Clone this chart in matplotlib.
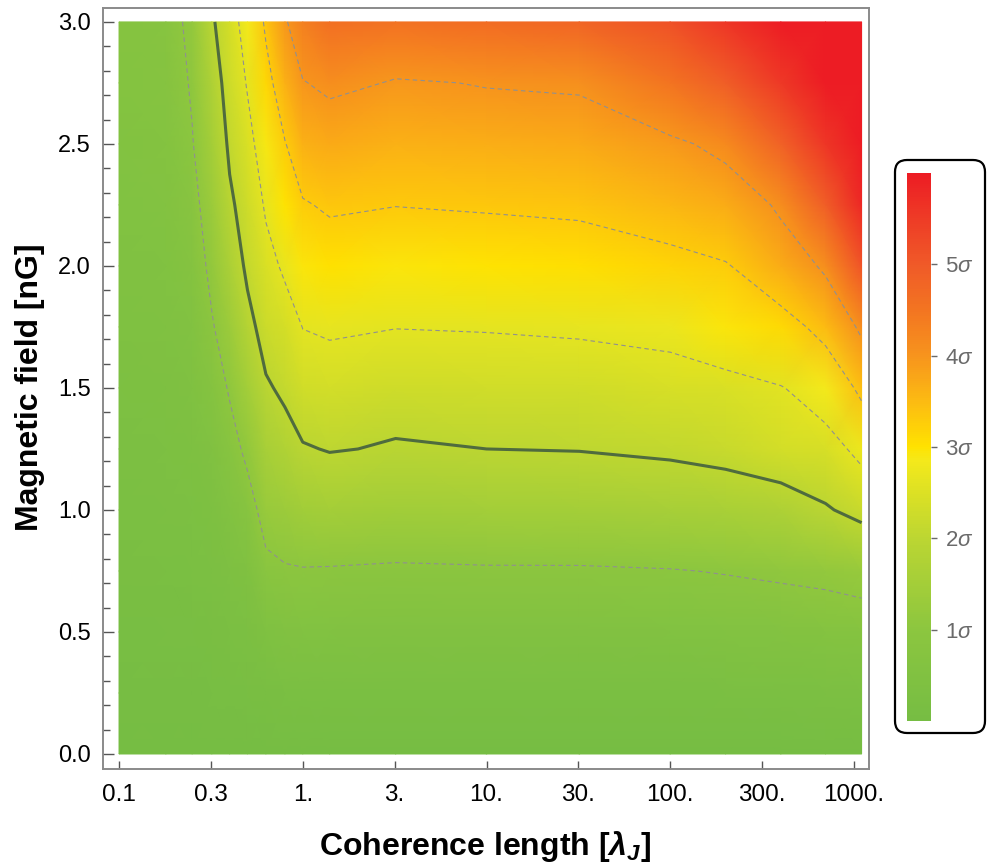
import numpy as np
import matplotlib
matplotlib.use("Agg")
import matplotlib.pyplot as plt
from matplotlib import font_manager as fm
from matplotlib.colors import LinearSegmentedColormap, Normalize
from matplotlib.cm import ScalarMappable
from matplotlib.patches import FancyBboxPatch
from matplotlib.transforms import IdentityTransform
from matplotlib.ticker import FixedLocator, MultipleLocator, NullLocator

_names = {f.name for f in fm.fontManager.ttflist}
NARROW = 'Liberation Sans Narrow' if 'Liberation Sans Narrow' in _names else 'Liberation Sans'
NARROW_ON = NARROW == 'Liberation Sans Narrow'

plt.rcParams['mathtext.fontset'] = 'custom'
plt.rcParams['mathtext.it'] = 'Liberation Sans:italic'
plt.rcParams['mathtext.rm'] = 'Liberation Sans'
plt.rcParams['mathtext.bf'] = NARROW + ':bold:italic'

# ---------------- data ----------------
coherence_length = [0.1, 0.18, 0.25, 0.32, 0.4, 0.5, 0.63, 0.8, 1.0, 1.4,
                    3.2, 10, 32, 100, 200, 400, 700, 1100]
field_nG = [0.0, 0.25, 0.5, 0.75, 1.0, 1.25, 1.5, 1.75, 2.0, 2.25, 2.5, 2.75, 3.0]

# significance (sigma) per coherence-length column, from B=0 up to B=3 nG
sig_0p1  = [0, 0.05, 0.10, 0.17, 0.22, 0.28, 0.34, 0.40, 0.46, 0.52, 0.58, 0.64, 0.70]
sig_0p18 = [0, 0.06, 0.12, 0.19, 0.26, 0.32, 0.38, 0.45, 0.52, 0.59, 0.65, 0.71, 0.78]
sig_0p25 = [0, 0.07, 0.14, 0.22, 0.30, 0.38, 0.48, 0.58, 0.69, 0.82, 0.97, 1.06, 1.15]
sig_0p32 = [0, 0.08, 0.17, 0.27, 0.38, 0.50, 0.70, 0.95, 1.15, 1.33, 1.52, 1.72, 1.93]
sig_0p4  = [0, 0.10, 0.22, 0.37, 0.55, 0.78, 1.06, 1.35, 1.65, 1.90, 2.10, 2.25, 2.38]
sig_0p5  = [0, 0.12, 0.27, 0.47, 0.75, 1.14, 1.48, 1.83, 2.11, 2.28, 2.44, 2.64, 2.84]
sig_0p63 = [0, 0.15, 0.40, 0.85, 1.25, 1.58, 1.93, 2.24, 2.45, 2.66, 2.90, 3.14, 3.38]
sig_0p8  = [0, 0.20, 0.50, 0.95, 1.35, 1.74, 2.12, 2.38, 2.68, 2.98, 3.28, 3.62, 3.95]
sig_1    = [0, 0.20, 0.52, 0.97, 1.45, 1.96, 2.32, 2.61, 2.93, 3.26, 3.62, 3.98, 4.33]
sig_1p4  = [0, 0.20, 0.52, 0.96, 1.50, 2.03, 2.35, 2.67, 3.02, 3.37, 3.72, 4.10, 4.60]
sig_3p2  = [0, 0.20, 0.50, 0.93, 1.44, 1.94, 2.29, 2.61, 2.95, 3.31, 3.62, 3.96, 4.55]
sig_10   = [0, 0.20, 0.50, 0.95, 1.48, 2.00, 2.30, 2.63, 2.98, 3.35, 3.67, 4.03, 4.65]
sig_32   = [0, 0.20, 0.50, 0.95, 1.50, 2.02, 2.32, 2.67, 3.04, 3.39, 3.72, 4.07, 4.80]
sig_100  = [0, 0.20, 0.52, 0.98, 1.55, 2.10, 2.43, 2.72, 3.17, 3.54, 3.92, 4.50, 5.15]
sig_200  = [0, 0.22, 0.55, 1.03, 1.60, 2.20, 2.45, 2.95, 3.27, 3.68, 4.15, 4.90, 5.60]
sig_400  = [0, 0.25, 0.60, 1.10, 1.72, 2.35, 2.58, 3.10, 3.68, 4.10, 4.85, 5.55, 6.10]
sig_700  = [0, 0.28, 0.64, 1.16, 1.95, 2.42, 2.85, 3.50, 4.10, 4.90, 5.60, 6.00, 6.30]
sig_1100 = [0, 0.30, 0.70, 1.24, 2.20, 2.75, 3.45, 4.12, 5.10, 5.80, 6.20, 6.30, 6.40]

dashed_levels = [1.0, 2.6, 3.3, 4.0]
solid_levels = [2.0]

x_tick_values = [0.1, 0.316, 1, 3.16, 10, 31.6, 100, 316, 1000]
x_tick_labels = ['0.1', '0.3', '1.', '3.', '10.', '30.', '100.', '300.', '1000.']
y_tick_values = [0.0, 0.5, 1.0, 1.5, 2.0, 2.5, 3.0]
y_tick_labels = ['0.0', '0.5', '1.0', '1.5', '2.0', '2.5', '3.0']
cbar_ticks = [1, 2, 3, 4, 5]
cbar_labels = [r'1$\sigma$', r'2$\sigma$', r'3$\sigma$', r'4$\sigma$', r'5$\sigma$']

# ---------------- colormap ----------------
cmap_nodes = [(0.0, '#76bd43'), (1/6, '#8cc63f'), (2/6, '#bcd632'), (2.5/6, '#dce124'),
              (2.85/6, '#f4e91b'), (3/6, '#ffe200'), (3.5/6, '#fcbb12'), (4/6, '#f7941d'),
              (4.5/6, '#f37521'), (5/6, '#f05a28'), (5.5/6, '#ee3c26'), (1.0, '#ed1c24')]
cmap = LinearSegmentedColormap.from_list('sig', cmap_nodes)
norm = Normalize(0, 6)

columns = [sig_0p1, sig_0p18, sig_0p25, sig_0p32, sig_0p4, sig_0p5, sig_0p63, sig_0p8,
           sig_1, sig_1p4, sig_3p2, sig_10, sig_32, sig_100, sig_200, sig_400, sig_700, sig_1100]
Z = np.array(columns).T
X, Y = np.meshgrid(coherence_length, field_nG)

# ---------------- figure ----------------
W, H = 989, 866
fig = plt.figure(figsize=(W / 100, H / 100), dpi=100)
ax = fig.add_axes([103 / W, 1 - 769 / H, 766 / W, 761 / H])
ax.set_xscale('log')
ax.pcolormesh(X, Y, Z, shading='gouraud', cmap=cmap, norm=norm, rasterized=True)
ax.contour(X, Y, Z, levels=dashed_levels, colors='#909090', linewidths=0.8,
           linestyles=[(0, (4, 3))])
ax.contour(X, Y, Z, levels=solid_levels, colors='#4f6b3e', linewidths=2.2)

ax.set_xlim(0.0818, 1207)
ax.set_ylim(-0.0615, 3.057)

for s in ax.spines.values():
    s.set_color('#8a8a8a')
    s.set_linewidth(1.4)

tick_family = [NARROW, 'DejaVu Sans']
ax.xaxis.set_major_locator(FixedLocator(x_tick_values))
ax.xaxis.set_minor_locator(NullLocator())
ax.set_xticklabels(x_tick_labels, fontsize=19 if NARROW_ON else 17.5, family=tick_family)
ax.yaxis.set_major_locator(FixedLocator(y_tick_values))
ax.yaxis.set_minor_locator(MultipleLocator(0.1))
ax.set_yticklabels(y_tick_labels, fontsize=17, family=['Liberation Sans', 'DejaVu Sans'])
ax.tick_params(axis='x', which='major', direction='in', length=6, width=1, color='#555555', pad=11)
ax.tick_params(axis='y', which='major', direction='in', length=8, width=1, color='#555555', pad=9)
ax.tick_params(axis='y', which='minor', direction='in', length=5, width=1, color='#555555')
ax.tick_params(top=False, right=False, which='both')

label_size = 24 if NARROW_ON else 23
fig.text(485 / W, 1 - 846 / H, r'Coherence length [$\mathbf{\lambda_J}$]', ha='center', va='center',
         fontsize=label_size, fontweight='bold', family=[NARROW, 'DejaVu Sans'])
fig.text(30 / W, 1 - 387 / H, 'Magnetic field [nG]', ha='center', va='center', rotation=90,
         fontsize=label_size, fontweight='bold', family=[NARROW, 'DejaVu Sans'])

# legend box
box = FancyBboxPatch((895, H - 733), 90, 573, boxstyle='round,pad=0,rounding_size=12',
                     transform=IdentityTransform(), fc='white', ec='black', lw=1.6, zorder=-1)
fig.add_artist(box)

cax = fig.add_axes([907 / W, 1 - 721 / H, 24 / W, 548 / H])
cb = fig.colorbar(ScalarMappable(norm=norm, cmap=cmap), cax=cax)
cb.outline.set_visible(False)
cb.set_ticks(cbar_ticks)
cb.set_ticklabels(cbar_labels)
cax.tick_params(colors='#6a6a6a', length=4, width=1, labelsize=16, pad=6)
for t in cax.get_yticklabels():
    t.set_family(['Liberation Sans', 'DejaVu Sans'])

fig.savefig('out.png', dpi=100)
